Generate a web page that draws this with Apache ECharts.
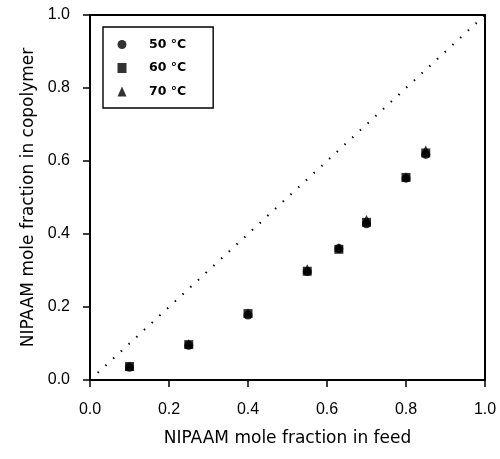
<!DOCTYPE html>
<html>
<head>
<meta charset="utf-8">
<script src="https://cdn.jsdelivr.net/npm/echarts@6/dist/echarts.min.js"></script>
<style>html,body{margin:0;padding:0;background:#fff}#c{width:500px;height:459px}</style>
</head>
<body>
<div id="c"></div>
<script>
const feed = [0.10, 0.25, 0.40, 0.55, 0.63, 0.70, 0.80, 0.85];
const cop50 = [0.035, 0.095, 0.178, 0.297, 0.360, 0.428, 0.553, 0.618];
const cop60 = [0.037, 0.097, 0.182, 0.298, 0.358, 0.432, 0.555, 0.622];
const cop70 = [0.038, 0.100, 0.184, 0.305, 0.363, 0.440, 0.557, 0.630];
const seriesNames = ['50 °C', '60 °C', '70 °C'];
const diagonal = [[0, 0], [1, 1]];

const font = 'Liberation Sans, Arial, Helvetica, sans-serif';
const titleFont = 'DejaVu Sans, sans-serif';
const pairs = arr => feed.map((x, i) => [x, arr[i]]);

const chart = echarts.init(document.getElementById('c'), null, {renderer: 'canvas'});
chart.setOption({
  animation: false,
  backgroundColor: '#fff',
  grid: {left: 90, right: 15, top: 15, bottom: 79, show: true, borderColor: '#000', borderWidth: 2, backgroundColor: 'transparent'},
  legend: {
    orient: 'vertical', left: 103, top: 27,
    data: seriesNames,
    itemWidth: 9, itemHeight: 10, itemGap: 10.5,
    padding: [11, 27, 10, 14.5],
    borderColor: '#000', borderWidth: 1.4,
    textStyle: {fontFamily: titleFont, fontWeight: 'bold', fontSize: 12.5, color: '#000', padding: [0, 0, 0, 17.5]}
  },
  xAxis: {
    type: 'value', min: 0, max: 1, interval: 0.2,
    name: 'NIPAAM mole fraction in feed', nameLocation: 'middle', nameGap: 50,
    nameTextStyle: {fontFamily: titleFont, fontSize: 17, color: '#000'},
    axisLine: {lineStyle: {color: '#000', width: 2}},
    axisTick: {show: true, length: 7, lineStyle: {color: '#000', width: 1.5}},
    axisLabel: {fontFamily: font, fontSize: 16, color: '#000', margin: 22, formatter: v => v.toFixed(1)},
    splitLine: {show: false}
  },
  yAxis: {
    type: 'value', min: 0, max: 1, interval: 0.2,
    name: 'NIPAAM mole fraction in copolymer', nameLocation: 'middle', nameGap: 46,
    nameTextStyle: {fontFamily: titleFont, fontSize: 17, color: '#000'},
    axisLine: {lineStyle: {color: '#000', width: 2}},
    axisTick: {show: true, length: 7, lineStyle: {color: '#000', width: 1.5}},
    axisLabel: {fontFamily: font, fontSize: 16, color: '#000', margin: 20, formatter: v => v.toFixed(1)},
    splitLine: {show: false}
  },
  series: [
    {name: seriesNames[0], type: 'scatter', symbol: 'circle', symbolSize: 9, itemStyle: {color: '#000'}, data: pairs(cop50)},
    {name: seriesNames[1], type: 'scatter', symbol: 'rect', symbolSize: 9, itemStyle: {color: '#000'}, data: pairs(cop60)},
    {name: seriesNames[2], type: 'scatter', symbol: 'triangle', symbolSize: 9, itemStyle: {color: '#000'}, data: pairs(cop70)},
    {type: 'line', data: diagonal, symbol: 'none', silent: true, lineStyle: {color: '#000', width: 2, type: [1.5, 9]}}
  ]
});
</script>
</body>
</html>
